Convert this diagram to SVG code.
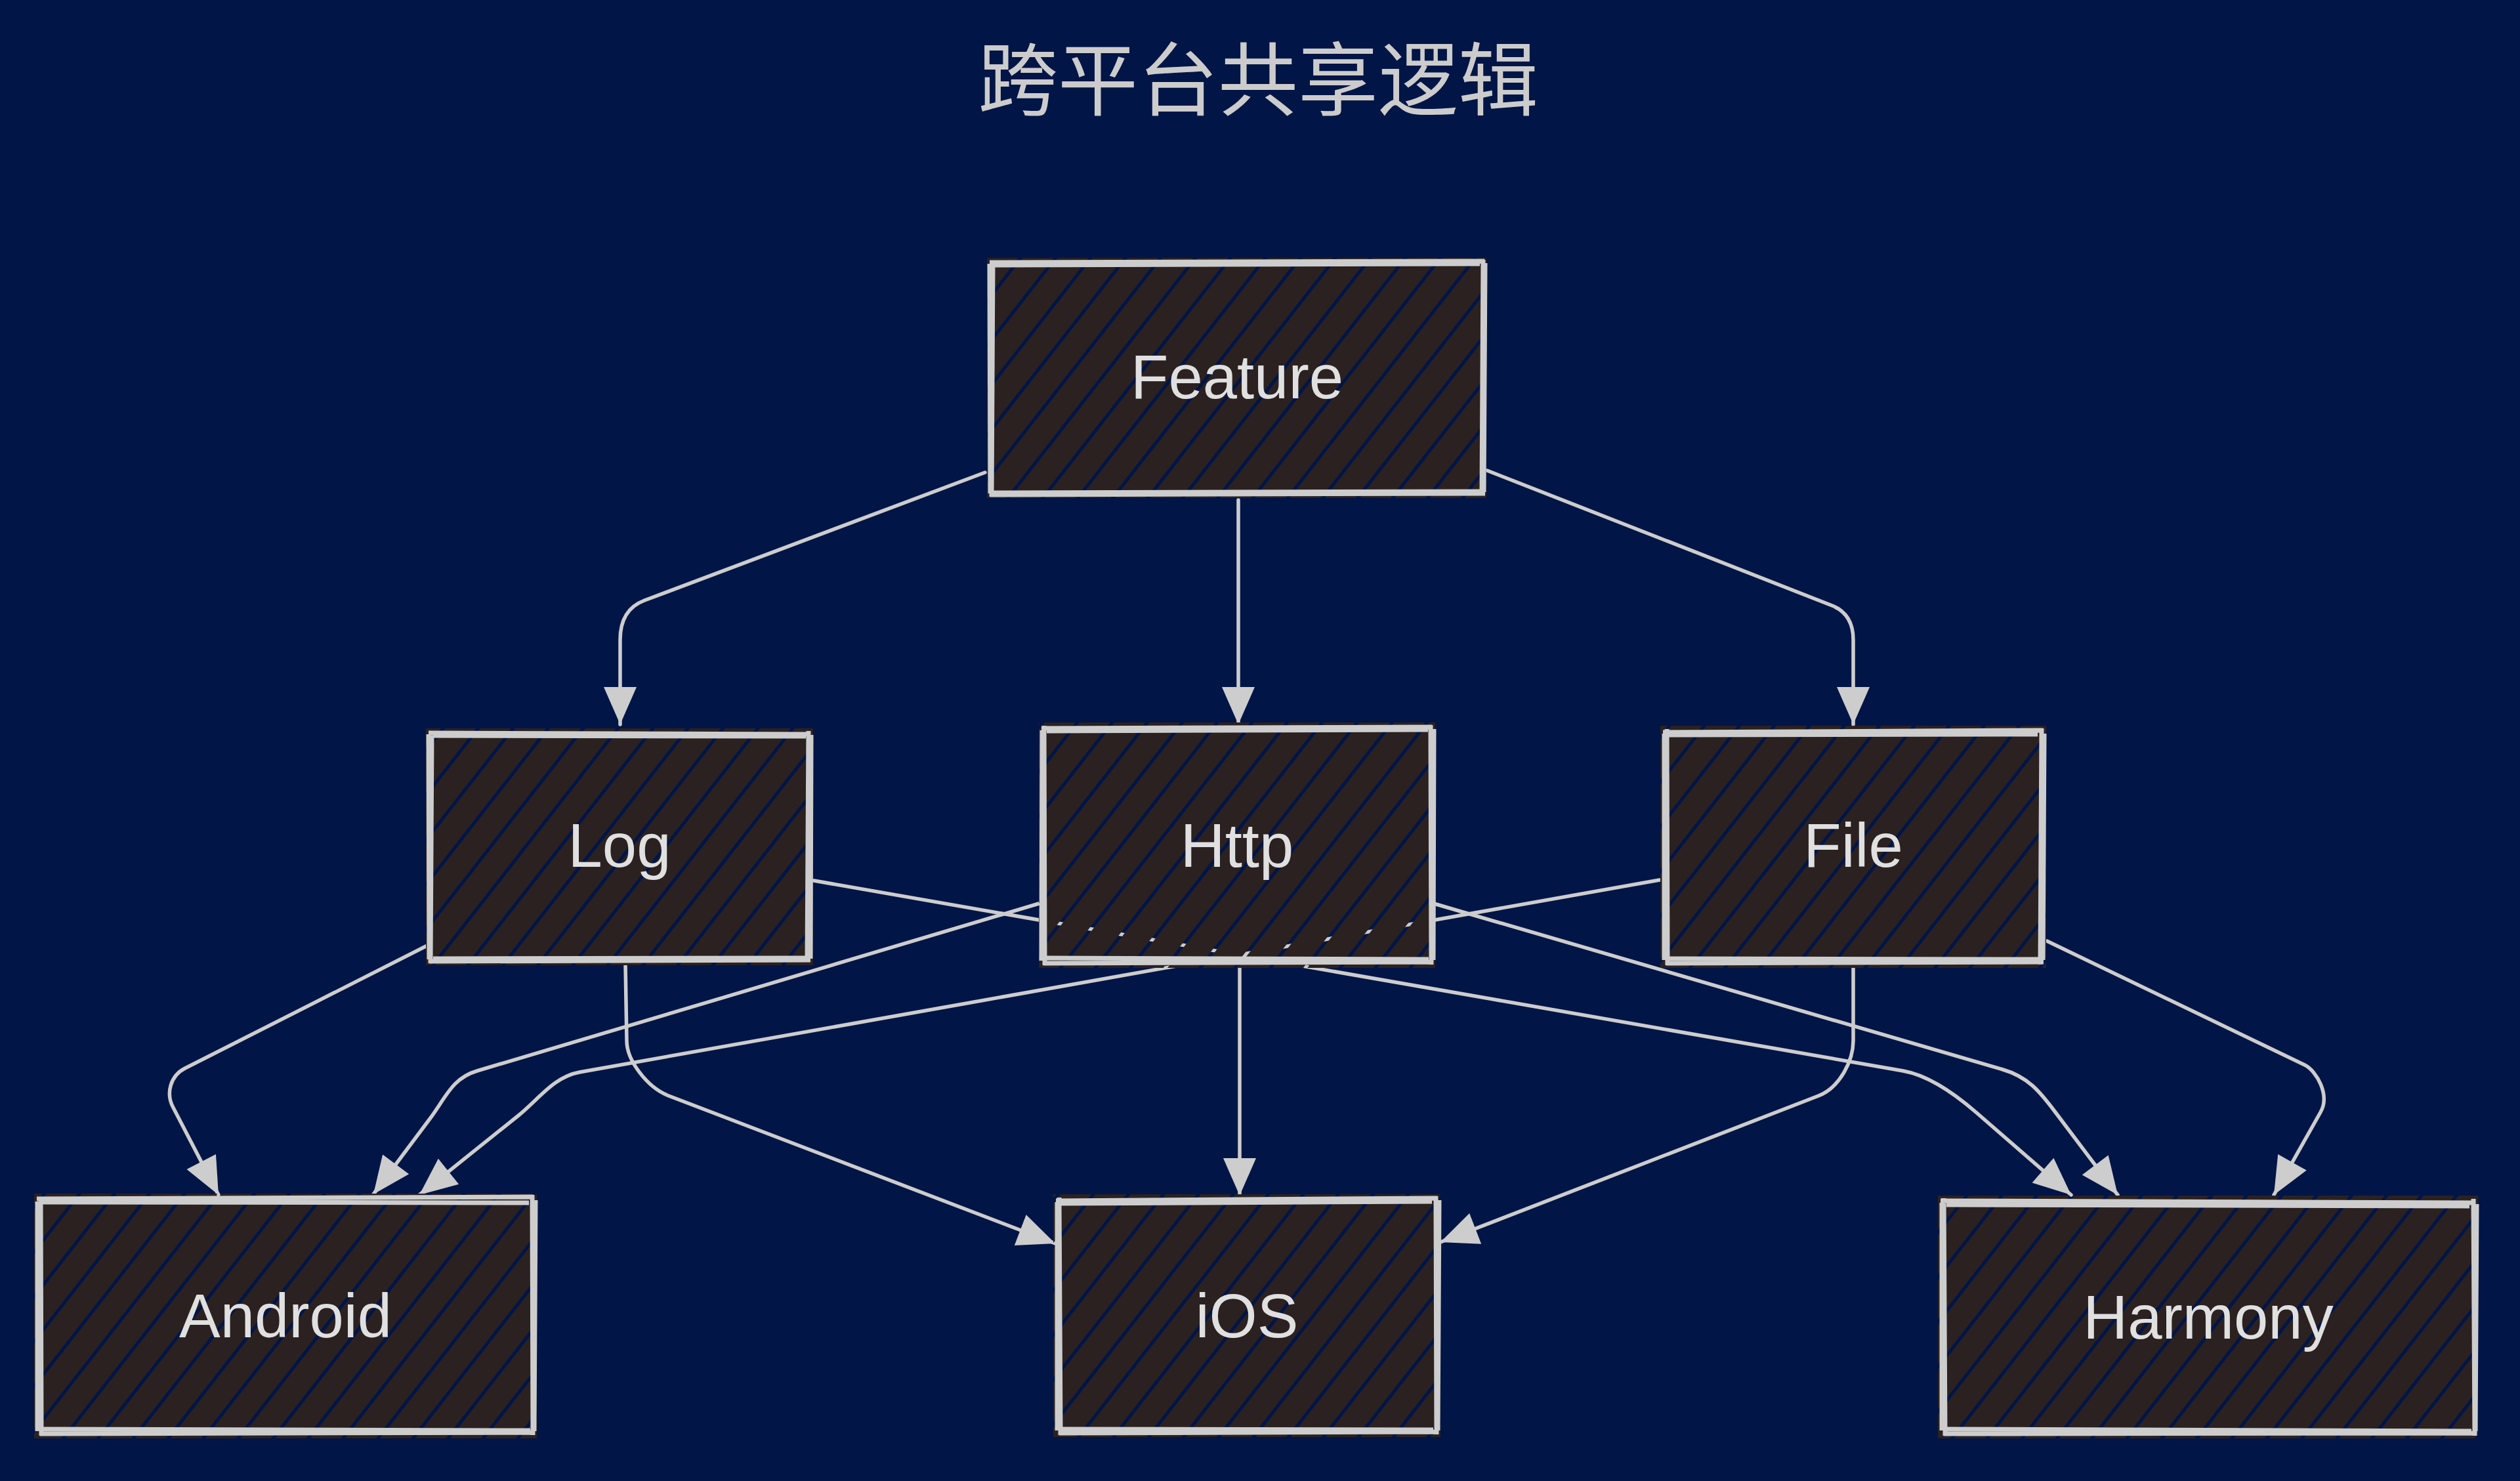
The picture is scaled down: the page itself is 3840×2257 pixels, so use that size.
<svg xmlns="http://www.w3.org/2000/svg" width="3840" height="2257" viewBox="0 0 3840 2257">
  <style>
    .bg{fill:#011547}
    .fill{fill:url(#hatch)}
    .bd{fill:none;stroke:#cdcdcd;stroke-width:7;stroke-linecap:butt;stroke-linejoin:miter}
    .lbl{font-family:"Liberation Sans",Arial,sans-serif;font-size:94px;fill:#e0e0e0;text-anchor:middle}
    .title{font-family:"Noto Sans CJK SC","Noto Sans CJK TC",sans-serif;font-size:122px;fill:#cccccc;text-anchor:middle}
    .edge{fill:none;stroke:#cdcdcd;stroke-width:5.5;stroke-linecap:round;stroke-linejoin:round;marker-end:url(#arrow)}
  </style>
  <defs>
    <pattern id="hatch" patternUnits="userSpaceOnUse" width="42" height="42" patternTransform="rotate(38)">
      <rect x="0" y="0" width="37" height="42" fill="#2b2121"/>
    </pattern>
    <marker id="arrow" markerUnits="userSpaceOnUse" markerWidth="58" markerHeight="50" refX="57" refY="25" orient="auto" overflow="visible">
      <path d="M0,0 L57,25 L0,50 Z" fill="#cdcdcd"/>
    </marker>
  </defs>
  <rect class="bg" x="0" y="0" width="3840" height="2257"/>
  <text class="title" x="1917" y="166">跨平台共享逻辑</text>

  <g id="connectors">
    <path class="edge" d="M1501,720 L982,915 Q945,929 945,975 L945,1104"/>
    <path class="edge" d="M1887,762 L1887,1104"/>
    <path class="edge" d="M2266,717 L2792,923 Q2824,936 2824,975 L2824,1104"/>
    <path class="edge" d="M651,1441 L282,1628 C260,1639 252,1666 264,1688 L333,1821"/>
    <path class="edge" d="M1583,1377 L727,1632 C689,1643 679,1673 655,1705 L569,1820"/>
    <path class="edge" d="M2529,1341 L883,1634 C844,1641 821,1675 790,1700 L639,1821"/>
    <path class="edge" d="M953,1470 L955,1586 C955,1616 986,1657 1019,1670 L1608,1895"/>
    <path class="edge" d="M1889,1475 L1889,1822"/>
    <path class="edge" d="M2824,1475 L2824,1586 C2824,1616 2804,1657 2771,1670 L2195,1893"/>
    <path class="edge" d="M1240,1342 L2900,1632 C2939,1639 2981,1669 3011,1695 L3156,1821"/>
    <path class="edge" d="M2185,1377 L3052,1630 C3090,1641 3108,1663 3132,1695 L3227,1821"/>
    <path class="edge" d="M3119,1434 L3512,1623 C3530,1632 3551,1669 3536,1695 L3465,1821"/>
  </g>

  <g id="node-feature">
    <rect class="fill" x="1504" y="393" width="761" height="366"/>
    <path class="bd" d="M1508,400 L2262,398 M2260,396 L2258,755 M2263,752 L1509,754 M1511,757 L1513,397"/>
    <path class="bd" d="M1513,404 L2255,402 M2263,401 L2261,750 M2256,749 L1514,751 M1509,752 L1508,402"/>
    <text class="lbl" x="1885" y="607">Feature</text>
  </g>

  <g id="node-log">
    <rect class="fill" x="649" y="1110" width="590" height="361"/>
    <path class="bd" d="M653,1117 L1234,1119 M1232,1114 L1230,1466 M1235,1463 L654,1465 M656,1468 L658,1114"/>
    <path class="bd" d="M660,1121 L1228,1122 M1236,1120 L1235,1461 M1229,1460 L660,1461 M654,1462 L653,1119"/>
    <text class="lbl" x="944" y="1321">Log</text>
  </g>

  <g id="node-http">
    <rect class="fill" x="1583" y="1101" width="604" height="374"/>
    <path class="bd" d="M1587,1110 L2182,1108 M2180,1105 L2181,1470 M2184,1466 L1590,1468 M1592,1471 L1591,1106"/>
    <path class="bd" d="M1595,1114 L2176,1112 M2185,1111 L2184,1463 M2177,1462 L1594,1460 M1587,1464 L1588,1113"/>
    <text class="lbl" x="1885" y="1321">Http</text>
  </g>

  <g id="node-file">
    <rect class="fill" x="2530" y="1106" width="588" height="369"/>
    <path class="bd" d="M2534,1116 L3113,1113 M3111,1110 L3109,1470 M3114,1466 L2539,1468 M2541,1471 L2540,1111"/>
    <path class="bd" d="M2542,1120 L3105,1119 M3115,1118 L3113,1463 M3107,1462 L2542,1461 M2536,1463 L2536,1118"/>
    <text class="lbl" x="2824" y="1321">File</text>
  </g>

  <g id="node-android">
    <rect class="fill" x="52" y="1819" width="766" height="373"/>
    <path class="bd" d="M56,1827 L813,1824 M811,1821 L812,2187 M815,2183 L61,2185 M63,2188 L62,1824"/>
    <path class="bd" d="M64,1832 L806,1833 M816,1829 L814,2181 M808,2180 L64,2178 M57,2181 L57,1831"/>
    <text class="lbl" x="435" y="2038">Android</text>
  </g>

  <g id="node-ios">
    <rect class="fill" x="1605" y="1820" width="590" height="370"/>
    <path class="bd" d="M1609,1830 L2190,1826 M2188,1823 L2189,2186 M2192,2182 L1614,2184 M1616,2187 L1614,1825"/>
    <path class="bd" d="M1617,1834 L2182,1831 M2193,1829 L2191,2180 M2184,2179 L1617,2178 M1611,2180 L1611,1832"/>
    <text class="lbl" x="1900" y="2038">iOS</text>
  </g>

  <g id="node-harmony">
    <rect class="fill" x="2953" y="1822" width="823" height="370"/>
    <path class="bd" d="M2957,1830 L3771,1833 M3769,1827 L3771,2188 M3774,2184 L2962,2185 M2964,2188 L2962,1826"/>
    <path class="bd" d="M2966,1836 L3763,1838 M3774,1835 L3772,2181 M3766,2181 L2966,2178 M2959,2180 L2959,1833"/>
    <text class="lbl" x="3365" y="2040">Harmony</text>
  </g>
</svg>
